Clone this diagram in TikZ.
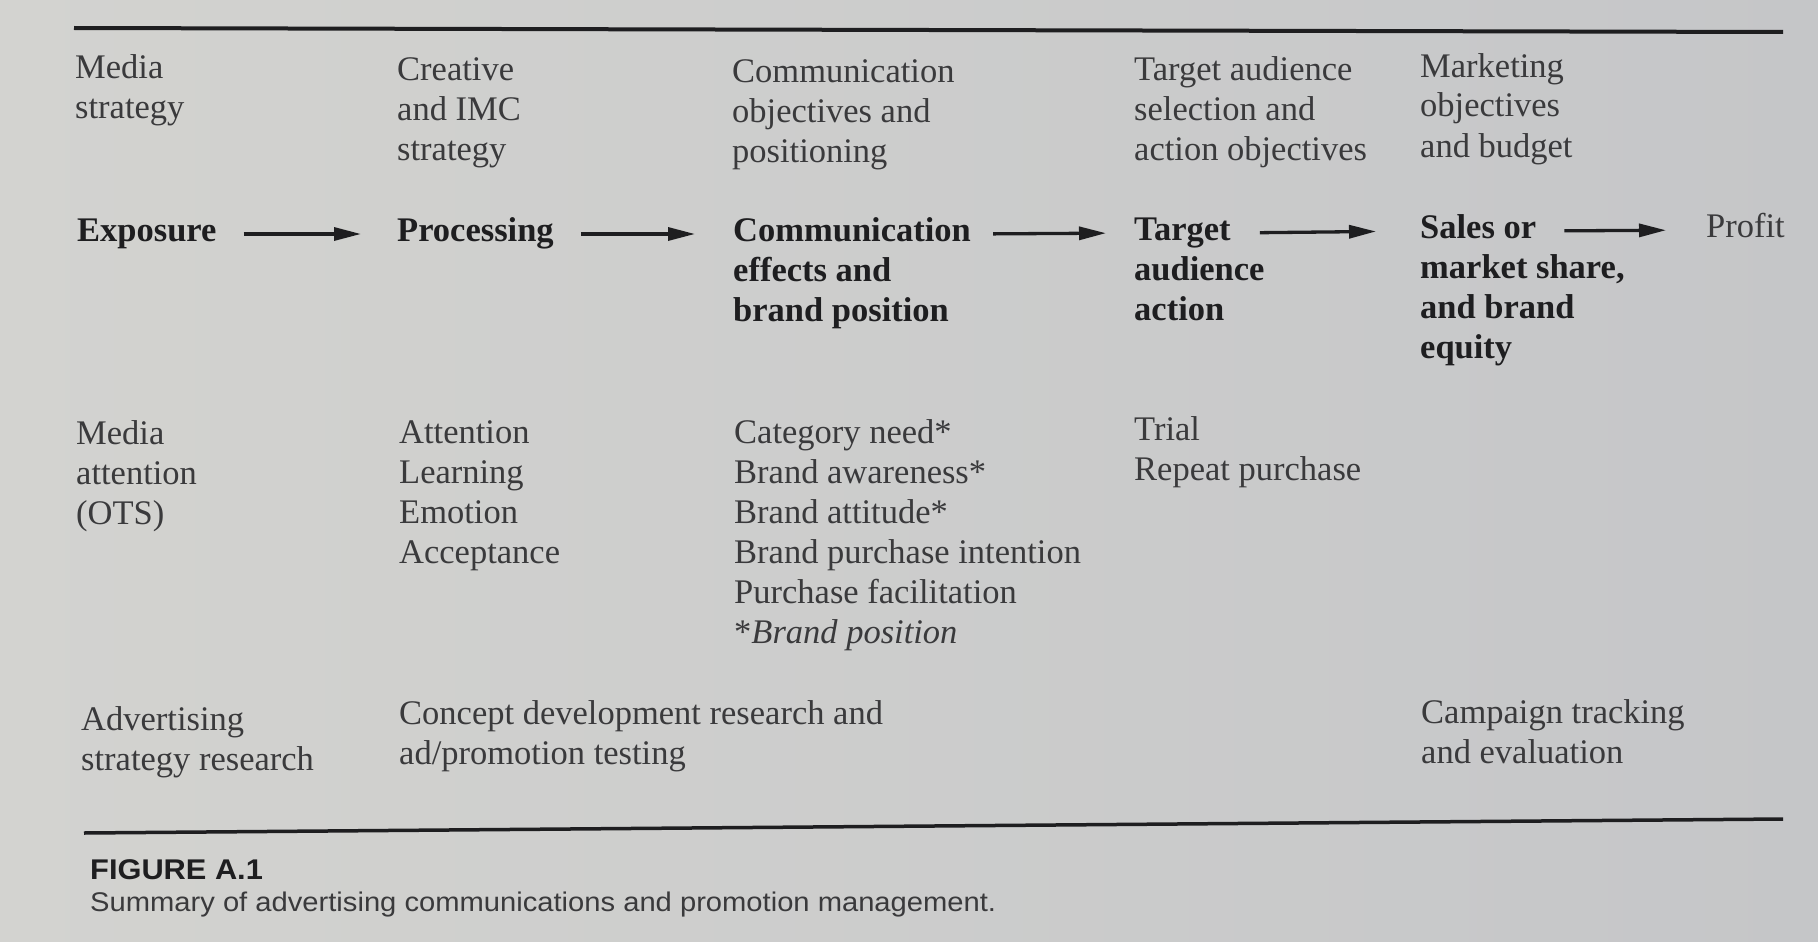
\documentclass[tikz,border=0pt]{standalone}
\usepackage{fontspec}
\setmainfont{Liberation Serif}
\newfontfamily\capfont[FakeStretch=1.08]{Liberation Sans}
\usetikzlibrary{arrows.meta}
\definecolor{paperl}{RGB}{211,211,208}
\definecolor{paperr}{RGB}{197,198,200}
\definecolor{ink}{RGB}{58,58,60}
\definecolor{inkdark}{RGB}{30,30,32}
\tikzset{plan/.style={anchor=base west, inner sep=0pt, align=left, text=ink, font=\fontsize{34.5}{40}\selectfont},
	stage/.style={plan, text=inkdark, font=\fontsize{34.5}{40}\selectfont\bfseries},
	flow/.style={-{Triangle[length=27pt,width=13pt]}, line width=3.3pt, draw=inkdark, shorten <=27pt, shorten >=36pt},
	rule/.style={draw=inkdark, line width=4pt},
	figcap/.style={anchor=base west, inner sep=0pt, text=inkdark, font=\capfont\fontsize{27}{30}\selectfont}}
\begin{document}
\begin{tikzpicture}[x=1pt,y=-1pt]
	\shade[left color=paperl, right color=paperr] (0,0) rectangle (1818,942);
	\useasboundingbox (0,0) rectangle (1818,942);
	\draw[rule] (74,28) -- (1783,32);
	\draw[rule, line width=3.5pt] (84,833) -- (1783,819);
	\node[plan] (mediaplan) at (75,118) {Media\\strategy};
	\node[plan] (creativeplan) at (397,160) {Creative\\and IMC\\strategy};
	\node[plan] (commplan) at (732,162) {Communication\\objectives and\\positioning};
	\node[plan] (targetplan) at (1134,160) {Target audience\\selection and\\action objectives};
	\node[plan] (marketplan) at (1420,157) {Marketing\\objectives\\and budget};
	\node[stage] (expo) at (77,241) {Exposure};
	\node[stage] (proc) at (397,241) {Processing};
	\node[stage] (comm) at (733,241) {Communication};
	\node[stage] (comm2) at ([yshift=-80pt]comm.base west) {effects and\\brand position};
	\node[stage] (act) at (1134,240) {Target};
	\node[stage] (act2) at ([yshift=-80pt]act.base west) {audience\\action};
	\node[stage] (sales) at (1420,238) {Sales or};
	\node[stage] (sales2) at ([yshift=-120pt]sales.base west) {market share,\\and brand\\equity};
	\node[plan] (profit) at (1706,237) {Profit};
	\draw[flow] ([yshift=7pt]expo.base east) -- ([yshift=7pt]proc.base west);
	\draw[flow, shorten >=38pt] ([yshift=7pt]proc.base east) -- ([yshift=7pt]comm.base west);
	\draw[flow, shorten <=22pt, shorten >=28pt] ([yshift=7pt]comm.base east) -- ([yshift=7pt]act.base west);
	\draw[flow, shorten <=29pt, shorten >=44pt] ([yshift=7pt]act.base east) -- ([yshift=7pt]sales.base west);
	\draw[flow, shorten <=28pt, shorten >=40pt] ([yshift=7pt]sales.base east) -- ([yshift=7pt]profit.base west);
	\node[plan] (mediaeff) at (76,524) {Media\\attention\\(OTS)};
	\node[plan] (proceff) at (399,563) {Attention\\Learning\\Emotion\\Acceptance};
	\node[plan] (commeff) at (734,643) {Category need*\\Brand awareness*\\Brand attitude*\\Brand purchase intention\\Purchase facilitation\\*\textit{Brand position}};
	\node[plan] (acteff) at (1134,480) {Trial\\Repeat purchase};
	\node[plan] (stratres) at (81,770) {Advertising\\strategy research};
	\node[plan] (conceptres) at (399,764) {Concept development research and\\ad/promotion testing};
	\node[plan] (trackres) at (1421,763) {Campaign tracking\\and evaluation};
	\node[figcap, font=\capfont\bfseries\fontsize{28.5}{30}\selectfont] (figno) at (90,879) {FIGURE A.1};
	\node[figcap, text=ink] (figtext) at (90,911) {Summary of advertising communications and promotion management.};
\end{tikzpicture}
\end{document}
